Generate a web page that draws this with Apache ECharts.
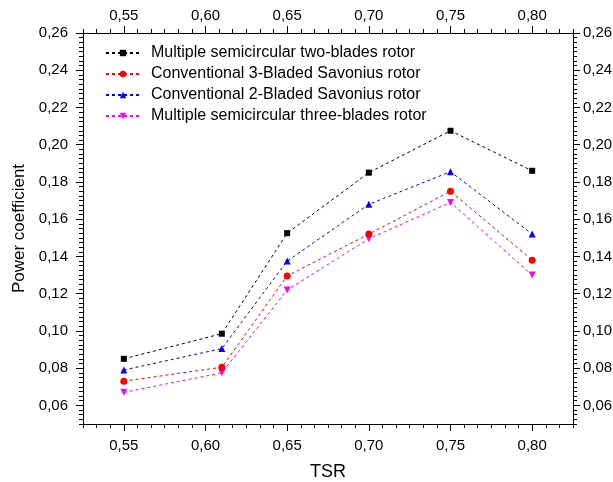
<!DOCTYPE html>
<html>
<head>
<meta charset="utf-8">
<script src="https://cdn.jsdelivr.net/npm/echarts@6/dist/echarts.min.js"></script>
<style>html,body{margin:0;padding:0;background:#fff}#c{width:613px;height:482px}</style>
</head>
<body>
<div id="c"></div>
<script>
// ---- data ----
const tsr = [0.55, 0.61, 0.65, 0.70, 0.75, 0.80];
const seriesNames = [
  'Multiple semicircular two-blades rotor',
  'Conventional 3-Bladed Savonius rotor',
  'Conventional 2-Bladed Savonius rotor',
  'Multiple semicircular three-blades rotor'
];
const twoBladesMulti = [0.085, 0.0985, 0.1525, 0.185, 0.2075, 0.186];
const threeBladedConv = [0.073, 0.0805, 0.1295, 0.152, 0.175, 0.138];
const twoBladedConv = [0.079, 0.0905, 0.1375, 0.168, 0.1855, 0.152];
const threeBladesMulti = [0.067, 0.0775, 0.122, 0.1495, 0.169, 0.130];
const xTicks = [0.55, 0.60, 0.65, 0.70, 0.75, 0.80];
const yTicks = [0.06, 0.08, 0.10, 0.12, 0.14, 0.16, 0.18, 0.20, 0.22, 0.24, 0.26];

// ---- minor ticks ----
const xMinor = [];
for (let k = 0; k <= 36; k++) xMinor.push(Math.round((0.525 + k * 0.05 / 6) * 1e6) / 1e6);
const yMinor = [];
for (let k = 0; k <= 84; k++) yMinor.push(Math.round((0.05 + k * 0.0025) * 1e6) / 1e6);

const FONT = 'Liberation Sans, Arial, sans-serif';
const fmt = v => Number(v).toFixed(2).replace('.', ',');
const XMIN = 0.525, XMAX = 0.825, YMIN = 0.05, YMAX = 0.26;
const gridRect = { left: 83, right: 40, top: 33, bottom: 58, outerBoundsMode: 'none', containLabel: false };

function majorX(pos, extra) {
  return Object.assign({
    type: 'value', gridIndex: 0, position: pos, min: XMIN, max: XMAX,
    axisLine: { show: true, onZero: false, lineStyle: { color: '#000', width: 1 } },
    axisTick: { show: true, inside: false, length: 7, customValues: xTicks, lineStyle: { color: '#000', width: 1 } },
    axisLabel: { show: true, customValues: xTicks, formatter: fmt, fontSize: 15, fontFamily: FONT, color: '#000', margin: pos === 'bottom' ? 14 : 10 },
    splitLine: { show: false }
  }, extra || {});
}
function minorX(pos) {
  return {
    type: 'value', gridIndex: 1, position: pos, min: XMIN, max: XMAX,
    axisLine: { show: false, onZero: false },
    axisTick: { show: true, inside: false, length: 4, customValues: xMinor, lineStyle: { color: '#000', width: 1 } },
    axisLabel: { show: false },
    splitLine: { show: false }
  };
}
function majorY(pos, extra) {
  return Object.assign({
    type: 'value', gridIndex: 0, position: pos, min: YMIN, max: YMAX,
    axisLine: { show: true, onZero: false, lineStyle: { color: '#000', width: 1 } },
    axisTick: { show: true, inside: false, length: 7, customValues: yTicks, lineStyle: { color: '#000', width: 1 } },
    axisLabel: { show: true, customValues: yTicks, formatter: fmt, fontSize: 15, fontFamily: FONT, color: '#000', margin: pos === 'left' ? 15 : 10 },
    splitLine: { show: false }
  }, extra || {});
}
function minorY(pos) {
  return {
    type: 'value', gridIndex: 1, position: pos, min: YMIN, max: YMAX,
    axisLine: { show: false, onZero: false },
    axisTick: { show: true, inside: false, length: 4, customValues: yMinor, lineStyle: { color: '#000', width: 1 } },
    axisLabel: { show: false },
    splitLine: { show: false }
  };
}

const colors = ['#000000', '#ff0000', '#0000ff', '#ff00ff'];
const symbols = ['rect', 'circle', 'triangle', 'triangle'];
const rotates = [0, 0, 0, 180];
const values = [twoBladesMulti, threeBladedConv, twoBladedConv, threeBladesMulti];

const series = values.map((vals, i) => ({
  name: seriesNames[i],
  type: 'line',
  xAxisIndex: 0, yAxisIndex: 0,
  data: tsr.map((x, j) => [x, vals[j]]),
  symbol: symbols[i],
  symbolRotate: rotates[i],
  symbolSize: i === 0 ? 6 : 7,
  showAllSymbol: true,
  itemStyle: { color: colors[i] },
  lineStyle: { color: colors[i], width: 1, type: [3, 3] },
  animation: false,
  z: 10 - i
}));

const chart = echarts.init(document.getElementById('c'), null, { renderer: 'canvas' });
chart.setOption({
  animation: false,
  backgroundColor: '#fff',
  grid: [Object.assign({}, gridRect), Object.assign({}, gridRect)],
  xAxis: [
    majorX('bottom', { name: 'TSR', nameLocation: 'middle', nameGap: 39, nameTextStyle: { fontSize: 18, fontFamily: FONT, color: '#000' } }),
    majorX('top'),
    minorX('bottom'),
    minorX('top')
  ],
  yAxis: [
    majorY('left', { name: 'Power coefficient', nameLocation: 'middle', nameGap: 55, nameTextStyle: { fontSize: 17, fontFamily: FONT, color: '#000' } }),
    majorY('right'),
    minorY('left'),
    minorY('right')
  ],
  legend: {
    orient: 'vertical',
    left: 105, top: 45,
    padding: 0,
    itemGap: 5,
    itemWidth: 34,
    itemHeight: 8,
    data: seriesNames,
    textStyle: { fontSize: 16, fontFamily: FONT, color: '#000', lineHeight: 16, padding: [0, 0, 0, 6] }
  },
  series: series
});
</script>
</body>
</html>
